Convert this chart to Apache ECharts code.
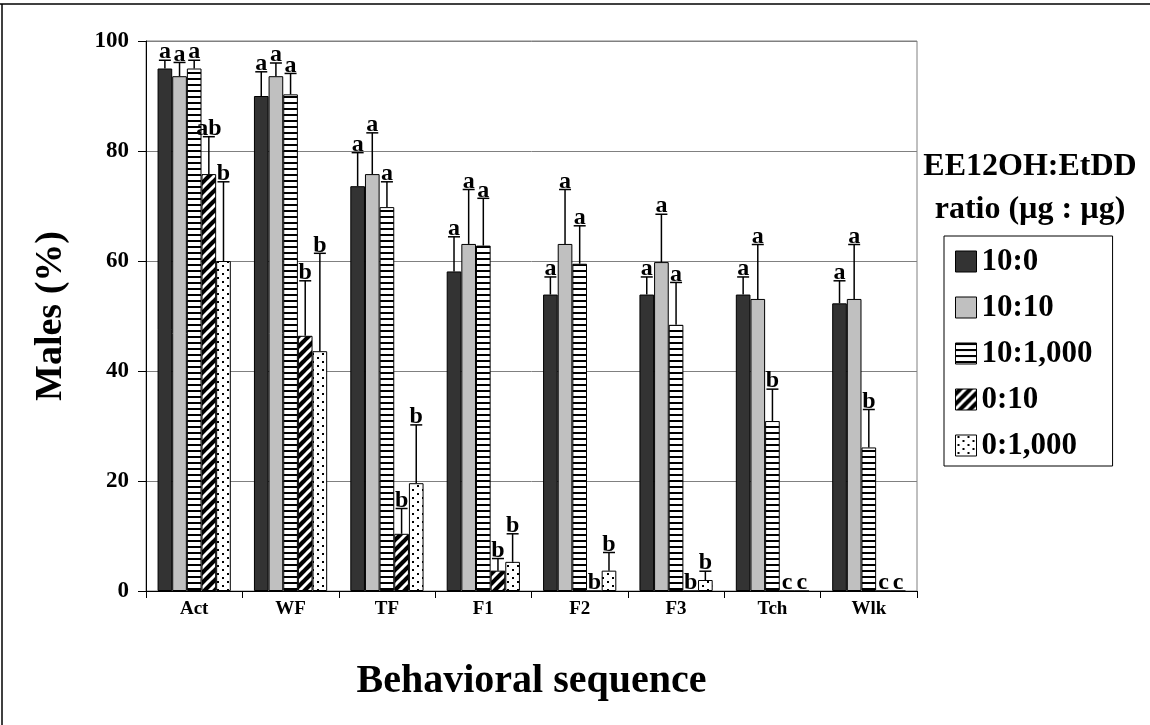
<!DOCTYPE html>
<html>
<head>
<meta charset="utf-8">
<script src="https://cdn.jsdelivr.net/npm/echarts@6/dist/echarts.min.js"></script>
<style>
html,body{margin:0;padding:0;background:#fff;}
#chart{width:1150px;height:725px;}
</style>
</head>
<body>
<div id="chart"></div>
<script>
// ---- data ----
const categories = ['Act', 'WF', 'TF', 'F1', 'F2', 'F3', 'Tch', 'Wlk'];
const seriesNames = ['10:0', '10:10', '10:1,000', '0:10', '0:1,000'];
const yTicks = [0, 20, 40, 60, 80, 100];

const v10_0    = [95.0, 90.0, 73.6, 58.1, 53.9, 53.9, 53.9, 52.3];
const v10_10   = [93.6, 93.6, 75.8, 63.1, 63.1, 59.8, 53.1, 53.1];
const v10_1000 = [95.0, 90.3, 69.8, 62.8, 59.5, 48.4, 30.9, 26.1];
const v0_10    = [75.8, 46.4, 10.4, 3.7, 0, 0, 0, 0];
const v0_1000  = [60.0, 43.6, 19.6, 5.3, 3.7, 2.0, 0, 0];

const se10_0    = [1.5, 4.4, 6.1, 6.3, 3.2, 3.2, 3.2, 4.1];
const se10_10   = [2.5, 2.4, 7.5, 9.9, 9.9, 8.7, 9.9, 9.9];
const se10_1000 = [1.5, 3.8, 4.6, 8.6, 6.9, 7.7, 5.8, 6.9];
const se0_10    = [6.8, 10.0, 4.6, 2.2, 0, 0, 0, 0];
const se0_1000  = [14.4, 17.8, 10.6, 5.1, 3.3, 1.6, 0, 0];

const let10_0    = ['a', 'a', 'a', 'a', 'a', 'a', 'a', 'a'];
const let10_10   = ['a', 'a', 'a', 'a', 'a', 'a', 'a', 'a'];
const let10_1000 = ['a', 'a', 'a', 'a', 'a', 'a', 'b', 'b'];
const let0_10    = ['ab', 'b', 'b', 'b', 'b', 'b', 'c', 'c'];
const let0_1000  = ['b', 'b', 'b', 'b', 'b', 'b', 'c', 'c'];

const allValues = [v10_0, v10_10, v10_1000, v0_10, v0_1000];
const allSE = [se10_0, se10_10, se10_1000, se0_10, se0_1000];
const allLetters = [let10_0, let10_10, let10_1000, let0_10, let0_1000];

// ---- patterns ----
function makeTile(w, h, draw) {
  const c = document.createElement('canvas');
  c.width = w; c.height = h;
  const ctx = c.getContext('2d');
  draw(ctx, w, h);
  return c;
}
const stripeTile = makeTile(6, 6, (ctx, w, h) => {
  ctx.fillStyle = '#fff'; ctx.fillRect(0, 0, w, h);
  ctx.fillStyle = '#000'; ctx.fillRect(0, 0, w, 2);
});
const diagTile = makeTile(10, 10, (ctx, w, h) => {
  ctx.fillStyle = '#000'; ctx.fillRect(0, 0, w, h);
  ctx.strokeStyle = '#fff'; ctx.lineWidth = 3;
  for (let k = -1; k <= 1; k++) {
    ctx.beginPath();
    ctx.moveTo(k * w - 1, h + 1);
    ctx.lineTo(k * w + w + 1, -1);
    ctx.stroke();
  }
});
const dotTile = makeTile(10, 8, (ctx, w, h) => {
  ctx.fillStyle = '#fff'; ctx.fillRect(0, 0, w, h);
  ctx.fillStyle = '#000';
  ctx.fillRect(2, 1, 2, 2);
  ctx.fillRect(7, 5, 2, 2);
});

const fills = [
  '#333333',
  '#c0c0c0',
  { image: stripeTile, repeat: 'repeat' },
  { image: diagTile, repeat: 'repeat' },
  { image: dotTile, repeat: 'repeat' }
];

const FONT = '"Liberation Serif", "Times New Roman", serif';
const GAP = 0.24;
const NS = seriesNames.length;

const barSeries = seriesNames.map((name, k) => ({
  name: name,
  type: 'bar',
  data: allValues[k],
  barGap: '0%',
  barCategoryGap: (GAP * 100) + '%',
  itemStyle: { color: fills[k], borderColor: '#000', borderWidth: 1 },
  emphasis: { disabled: true },
  z: 2
}));

const errSeries = seriesNames.map((name, k) => ({
  type: 'custom',
  name: name + ' err',
  z: 5,
  silent: true,
  data: allValues[k].map((v, i) => [i, v + allSE[k][i]]),
  encode: { x: 0, y: 1 },
  renderItem: function (params, api) {
    const i = params.dataIndex;
    const val = allValues[k][i];
    const se = allSE[k][i];
    const letter = allLetters[k][i];
    const base = api.coord([i, 0]);
    const band = api.size([1, 0])[0];
    const barW = band * (1 - GAP) / NS;
    const cx = base[0] - band * (1 - GAP) / 2 + (k + 0.5) * barW;
    const yVal = api.coord([i, val])[1];
    const yTop = api.coord([i, val + se])[1];
    const children = [];
    if (se > 0) {
      children.push({
        type: 'line',
        shape: { x1: cx, y1: yVal, x2: cx, y2: yTop },
        style: { stroke: '#000', lineWidth: 1.5 }
      });
      children.push({
        type: 'line',
        shape: { x1: cx - 6, y1: yTop, x2: cx + 6, y2: yTop },
        style: { stroke: '#000', lineWidth: 1.5 }
      });
    }
    children.push({
      type: 'text',
      style: {
        x: cx, y: yTop + 4,
        text: letter,
        align: 'center',
        verticalAlign: 'bottom',
        font: 'bold 24px ' + FONT,
        fill: '#000'
      }
    });
    return { type: 'group', children: children };
  }
}));

const chart = echarts.init(document.getElementById('chart'), null, { renderer: 'canvas' });
chart.setOption({
  backgroundColor: '#fff',
  animation: false,
  textStyle: { fontFamily: FONT },
  grid: {
    left: 146, right: 233, top: 41, bottom: 134,
    show: true, borderColor: '#808080', borderWidth: 1
  },
  legend: {
    data: seriesNames,
    orient: 'vertical',
    left: 944, top: 236,
    itemWidth: 21, itemHeight: 21,
    itemGap: 15,
    padding: [10, 20, 5, 11],
    borderColor: '#000', borderWidth: 1,
    icon: 'rect',
    selectedMode: false,
    textStyle: { fontFamily: FONT, fontWeight: 'bold', fontSize: 31, color: '#000', lineHeight: 30 },
    itemStyle: { borderColor: '#000', borderWidth: 1 }
  },
  xAxis: {
    type: 'category',
    data: categories,
    axisLine: { lineStyle: { color: '#000', width: 1 } },
    axisTick: { show: true, interval: 0, length: 7, lineStyle: { color: '#000' } },
    axisLabel: { fontFamily: FONT, fontWeight: 'bold', fontSize: 19, color: '#000', margin: 9 },
    name: 'Behavioral sequence',
    nameLocation: 'middle',
    nameGap: 71,
    nameTextStyle: { fontFamily: FONT, fontWeight: 'bold', fontSize: 40, color: '#000' }
  },
  yAxis: {
    type: 'value',
    min: yTicks[0], max: yTicks[yTicks.length - 1], interval: yTicks[1] - yTicks[0],
    axisLine: { show: true, lineStyle: { color: '#000', width: 1 } },
    axisTick: { show: true, length: 8, lineStyle: { color: '#000' } },
    splitLine: { show: true, lineStyle: { color: '#808080', width: 1 } },
    axisLabel: { fontFamily: FONT, fontWeight: 'bold', fontSize: 23, color: '#000', margin: 17 },
    name: 'Males (%)',
    nameLocation: 'middle',
    nameGap: 76,
    nameTextStyle: { fontFamily: FONT, fontWeight: 'bold', fontSize: 38, color: '#000' }
  },
  graphic: [
    { type: 'line', shape: { x1: 0, y1: 4, x2: 1150, y2: 4 }, style: { stroke: '#000', lineWidth: 1.5 } },
    { type: 'line', shape: { x1: 2, y1: 4, x2: 2, y2: 725 }, style: { stroke: '#000', lineWidth: 1.5 } },
    { type: 'text', x: 1030, y: 167, style: { text: 'EE12OH:EtDD', font: 'bold 32px ' + FONT, fill: '#000', align: 'center', verticalAlign: 'middle' } },
    { type: 'text', x: 1030, y: 210, style: { text: 'ratio (µg : µg)', font: 'bold 32px ' + FONT, fill: '#000', align: 'center', verticalAlign: 'middle' } }
  ],
  series: barSeries.concat(errSeries)
});
</script>
</body>
</html>
